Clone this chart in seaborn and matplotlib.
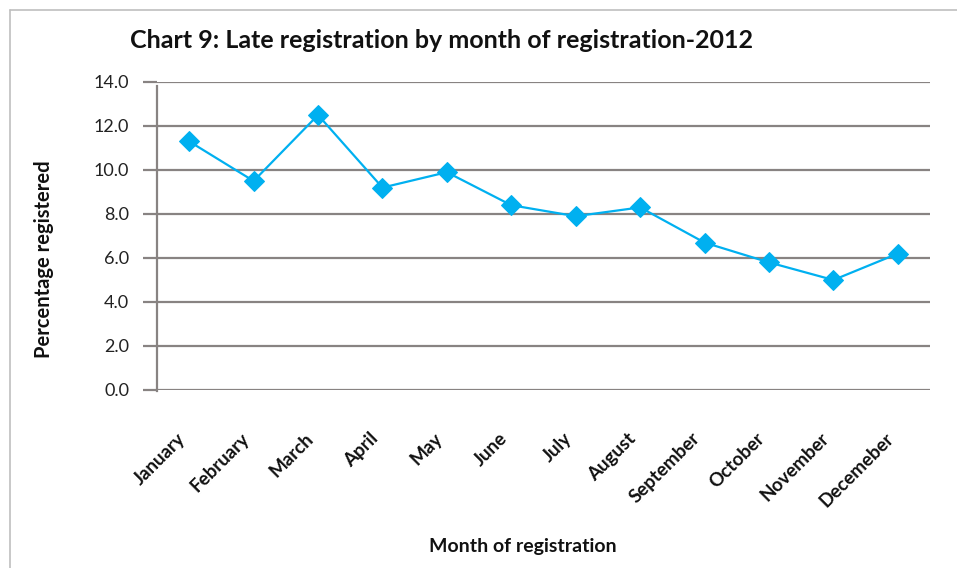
import matplotlib
matplotlib.use("Agg")
import matplotlib.pyplot as plt
import matplotlib.transforms as mtransforms
from matplotlib.lines import Line2D
import seaborn as sns
import pandas as pd

months = ["January", "February", "March", "April", "May", "June", "July",
          "August", "September", "October", "November", "Decemeber"]
percent = [11.3, 9.5, 12.5, 9.2, 9.9, 8.4, 7.9, 8.3, 6.7, 5.8, 5.0, 6.2]
yticks = [0, 2, 4, 6, 8, 10, 12, 14]

sns.set_style("white")
plt.rcParams['font.family'] = ['Lato', 'DejaVu Sans']

df = pd.DataFrame({"month": months, "pct": percent})

fig = plt.figure(figsize=(9.57, 5.68), dpi=100)
ax = fig.add_axes([157/957, 1 - 390/568, (930 - 157)/957, (390 - 82)/568])

grid_c = "#888382"
line_c = "#00B0F0"

sns.lineplot(data=df, x="month", y="pct", ax=ax, sort=False, color=line_c,
             linewidth=1.6, marker="D", markersize=10.5, markeredgecolor=line_c,
             markerfacecolor=line_c)

ax.set_xlim(-0.5, len(months) - 0.5)
ax.set_ylim(0, 14)
ax.set_yticks(yticks)
ax.set_yticklabels([f"{v:.1f}" for v in yticks], fontsize=13, color="#222222")
ax.yaxis.grid(True, color=grid_c, linewidth=1.6)
ax.set_axisbelow(True)
ax.tick_params(axis="y", length=10, width=1.6, color=grid_c, pad=10, left=True)
ax.tick_params(axis="x", length=0, pad=33)

ax.set_xticks(range(len(months)))
ax.set_xticklabels(months, rotation=45, ha="right", va="center",
                   rotation_mode="anchor", fontsize=13.5, fontweight="bold",
                   color="#111111")
offset = mtransforms.ScaledTranslation(-7/100, 0, fig.dpi_scale_trans)
for lbl in ax.get_xticklabels():
    lbl.set_transform(lbl.get_transform() + offset)

for s in ["top", "right", "bottom"]:
    ax.spines[s].set_visible(False)
ax.spines["left"].set_color(grid_c)
ax.spines["left"].set_linewidth(1.6)
ax.spines["left"].set_bounds(-0.05, 13.8)

ax.set_xlabel("Month of registration", fontsize=14, fontweight="bold", color="#111111")
ax.set_ylabel("Percentage registered", fontsize=14.5, fontweight="bold", color="#111111")
ax.xaxis.set_label_coords(0.4735, -0.48)
ax.yaxis.set_label_coords(-0.133, 0.425)

fig.text(130/957, 1 - 40/568, "Chart 9: Late registration by month of registration-2012",
         fontsize=18, fontweight="bold", ha="left", va="center", color="#111111")

# outer frame (left and top edges visible)
fig.add_artist(Line2D([10/957, 10/957], [0, 1 - 10/568], color="#BFBFBF", linewidth=1.2,
                      transform=fig.transFigure))
fig.add_artist(Line2D([10/957, 1], [1 - 10/568, 1 - 10/568], color="#BFBFBF", linewidth=1.2,
                      transform=fig.transFigure))

fig.savefig("out.png", dpi=100)
